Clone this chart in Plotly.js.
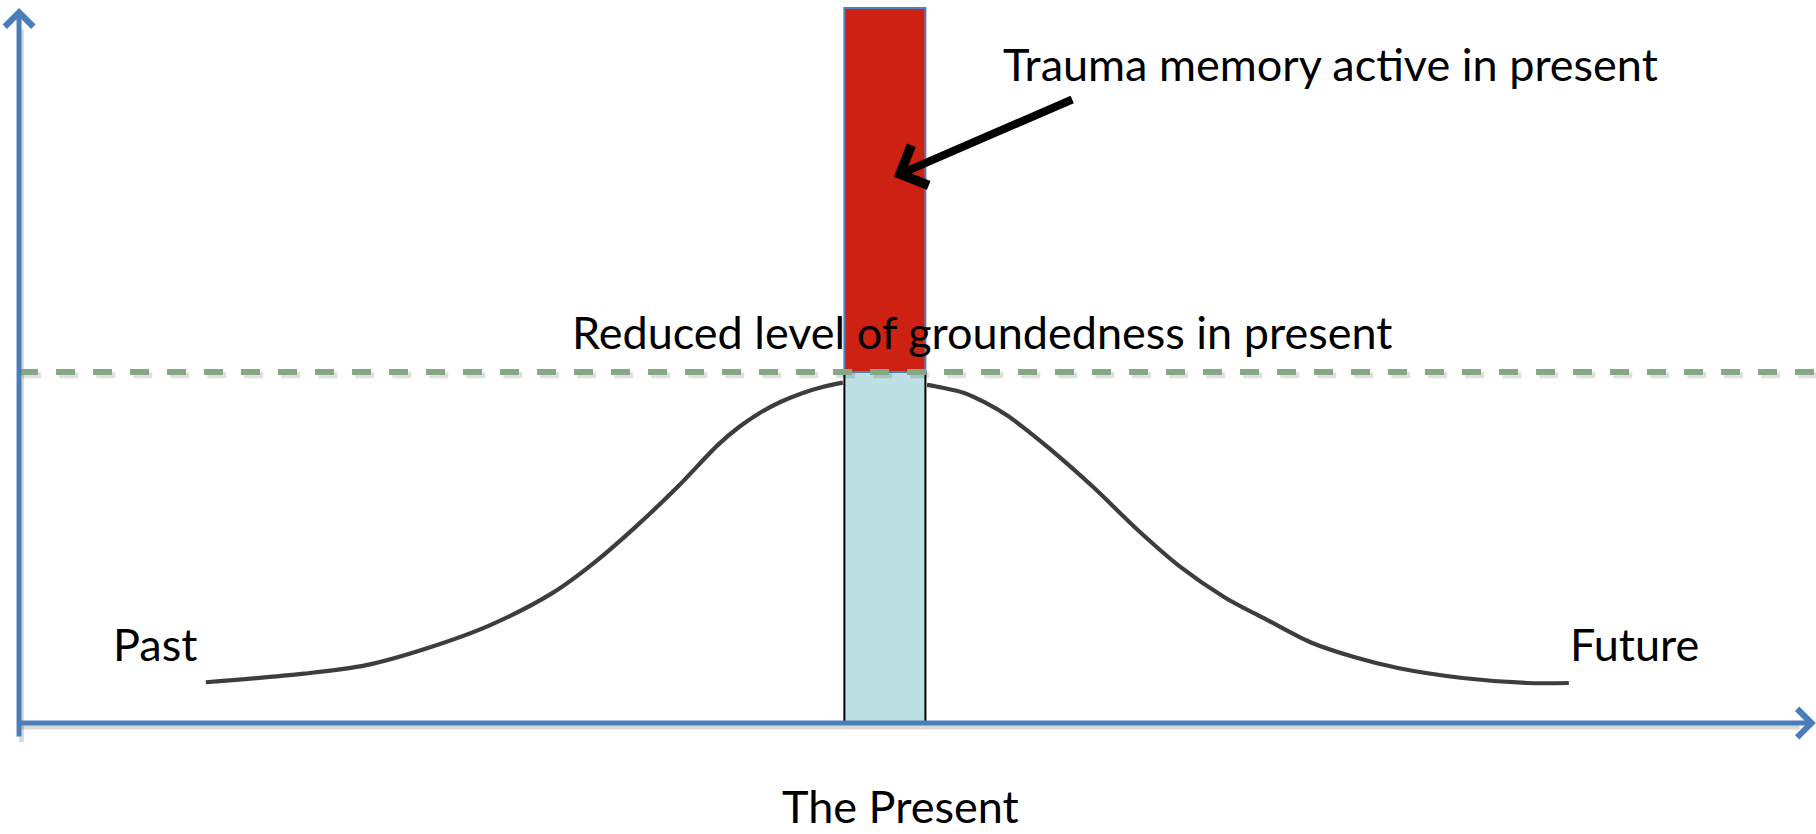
<!DOCTYPE html>
<html>
<head>
<meta charset="utf-8">
<script src="https://cdn.plot.ly/plotly-3.0.1.min.js"></script>
<style>html,body{margin:0;padding:0;background:#fff;}#chart{width:1816px;height:834px;}</style>
</head>
<body>
<div id="chart"></div>
<script>
// Time axis: the present moment is 0 (bar spans -0.5..0.5); level axis 0..10
var pastX  = [-8.38, -7.17, -6.40, -5.64, -4.87, -4.10, -3.59, -3.08, -2.56, -2.06, -1.80, -1.54, -1.29, -1.03, -0.77, -0.52];
var pastY  = [0.57, 0.69, 0.81, 1.05, 1.37, 1.82, 2.24, 2.74, 3.30, 3.89, 4.14, 4.34, 4.49, 4.61, 4.70, 4.76];
var futureX = [0.52, 0.71, 0.97, 1.24, 1.51, 1.77, 2.04, 2.57, 3.12, 3.65, 4.19, 4.72, 5.25, 5.80, 6.33, 7.13, 7.93, 8.44];
var futureY = [4.73, 4.69, 4.62, 4.48, 4.30, 4.08, 3.83, 3.30, 2.70, 2.18, 1.76, 1.44, 1.13, 0.92, 0.77, 0.63, 0.56, 0.56];

var presentX = [0];
var groundedLevel = [4.91];   // reduced level of groundedness
var traumaTop = [10.0];       // top of active trauma memory

var axisMinX = -10.685, axisMaxX = 11.488;
var axisMinY = -0.21, axisMaxY = 10.0;

var labels = {
  trauma: 'Trauma memory active in present',
  grounded: 'Reduced level of groundedness in present',
  past: 'Past',
  future: 'Future',
  present: 'The Present'
};

var font = {family: 'Lato, "Open Sans", sans-serif', size: 45, color: '#000'};

var traces = [
  {type: 'bar', x: presentX, y: groundedLevel, base: [0], width: 1,
   marker: {color: '#bce0e3', line: {color: '#000', width: 2}}, hoverinfo: 'skip'},
  {type: 'bar', x: presentX, y: [traumaTop[0] - groundedLevel[0]], base: groundedLevel, width: 1,
   marker: {color: '#cd2213', line: {color: '#4f81bd', width: 2}}, hoverinfo: 'skip'},
  {type: 'scatter', mode: 'lines', x: pastX, y: pastY,
   line: {color: '#3d3d3d', width: 4.2, shape: 'spline', smoothing: 0.9}, hoverinfo: 'skip'},
  {type: 'scatter', mode: 'lines', x: futureX, y: futureY,
   line: {color: '#3d3d3d', width: 4.2, shape: 'spline', smoothing: 0.9}, hoverinfo: 'skip'},
  {type: 'scatter', mode: 'lines', x: [axisMinX + 0.04, 11.6], y: [groundedLevel[0] - 0.045, groundedLevel[0] - 0.045],
   line: {color: 'rgba(0,0,0,0.12)', width: 6, dash: '19px,18px'}, hoverinfo: 'skip'},
  {type: 'scatter', mode: 'lines', x: [axisMinX, 11.6], y: [groundedLevel[0], groundedLevel[0]],
   line: {color: '#84a884', width: 6, dash: '19px,18px'}, hoverinfo: 'skip'}
];

var layout = {
  width: 1816, height: 834,
  margin: {l: 0, r: 0, t: 0, b: 0},
  paper_bgcolor: '#fff', plot_bgcolor: '#fff',
  showlegend: false,
  barmode: 'overlay',
  xaxis: {range: [-10.92, 11.49], visible: false, fixedrange: true},
  yaxis: {range: [-1.552, 10.112], visible: false, fixedrange: true},
  shapes: [
    {type: 'line', xref: 'x', yref: 'y', x0: axisMinX + 0.03, x1: axisMaxX - 0.2, y0: -0.055, y1: -0.055,
     line: {color: 'rgba(0,0,0,0.15)', width: 5}, layer: 'below'},
    {type: 'line', xref: 'x', yref: 'y', x0: axisMinX + 0.03, x1: axisMinX + 0.03, y0: axisMinY - 0.06, y1: axisMaxY - 0.3,
     line: {color: 'rgba(0,0,0,0.15)', width: 5}, layer: 'below'}
  ],
  annotations: [
    // axes
    {xref: 'x', yref: 'y', axref: 'x', ayref: 'y', x: axisMinX, y: axisMaxY, ax: axisMinX, ay: axisMinY,
     text: '', showarrow: true, arrowhead: 4, arrowsize: 1.1, arrowwidth: 5, arrowcolor: '#4a7ebb', standoff: 0, startstandoff: 0},
    {xref: 'x', yref: 'y', axref: 'x', ayref: 'y', x: axisMaxX, y: 0, ax: axisMinX, ay: 0,
     text: '', showarrow: true, arrowhead: 4, arrowsize: 1.1, arrowwidth: 5, arrowcolor: '#4a7ebb', standoff: 0, startstandoff: 0},
    // pointer arrow
    {xref: 'x', yref: 'y', axref: 'x', ayref: 'y', x: 0.11, y: 7.64, ax: 2.33, ay: 8.73,
     text: '', showarrow: true, arrowhead: 4, arrowsize: 1.05, arrowwidth: 8, arrowcolor: '#000', standoff: 0, startstandoff: 0},
    // labels
    {xref: 'x', yref: 'y', x: 1.43, y: 9.22, xanchor: 'left', yanchor: 'middle', text: labels.trauma, showarrow: false, font: font},
    {xref: 'x', yref: 'y', x: -3.88, y: 5.47, xanchor: 'left', yanchor: 'middle', text: labels.grounded, showarrow: false, font: font},
    {xref: 'x', yref: 'y', x: -9.55, y: 1.10, xanchor: 'left', yanchor: 'middle', text: labels.past, showarrow: false, font: font},
    {xref: 'x', yref: 'y', x: 8.43, y: 1.10, xanchor: 'left', yanchor: 'middle', text: labels.future, showarrow: false, font: font},
    {xref: 'x', yref: 'y', x: -1.30, y: -1.16, xanchor: 'left', yanchor: 'middle', text: labels.present, showarrow: false, font: font}
  ]
};

Plotly.newPlot('chart', traces, layout, {staticPlot: true, displayModeBar: false});
</script>
</body>
</html>
